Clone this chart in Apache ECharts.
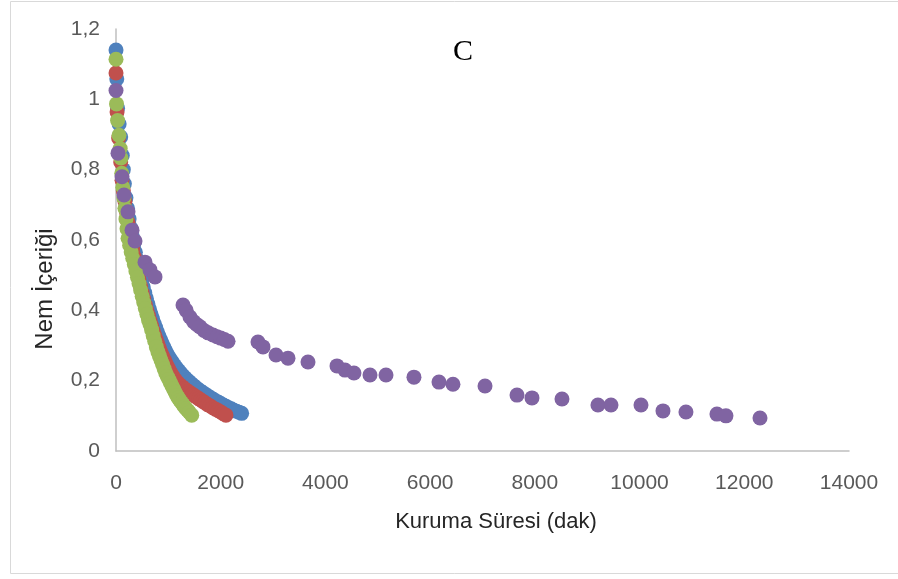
<!DOCTYPE html>
<html><head><meta charset="utf-8">
<script src="https://cdn.jsdelivr.net/npm/echarts@6/dist/echarts.min.js"></script>
<style>html,body{margin:0;padding:0;background:#fff}#c{width:898px;height:579px}</style>
</head><body><div id="c"></div>
<script>
const chartTitle = "C";
const xAxisTitle = "Kuruma Süresi (dak)";
const yAxisTitle = "Nem İçeriği";
const yTickLabels = ["0","0,2","0,4","0,6","0,8","1","1,2"];

const blueSeries = [[0,1.14],[15,1.058],[30,0.975],[60,0.93],[90,0.893],[120,0.84],[140,0.80],[160,0.76],[190,0.72],[220,0.69],[250,0.66],[280,0.635],[310,0.61],[340,0.588],[370,0.565],[400,0.545],[430,0.522],[460,0.502],[490,0.484],[520,0.466],[550,0.45],[580,0.434],[610,0.418],[640,0.403],[670,0.389],[700,0.375],[730,0.362],[760,0.35],[790,0.338],[820,0.327],[850,0.316],[880,0.306],[910,0.296],[940,0.287],[970,0.278],[1000,0.27],[1040,0.261],[1080,0.252],[1120,0.243],[1160,0.235],[1200,0.228],[1240,0.221],[1280,0.214],[1320,0.208],[1360,0.202],[1400,0.197],[1440,0.191],[1480,0.186],[1520,0.181],[1560,0.176],[1600,0.172],[1650,0.167],[1700,0.162],[1750,0.157],[1800,0.152],[1850,0.148],[1900,0.143],[1950,0.139],[2000,0.135],[2050,0.131],[2100,0.127],[2150,0.123],[2200,0.12],[2250,0.116],[2300,0.113],[2350,0.11],[2400,0.107]];

const redSeries = [[0,1.075],[20,0.964],[50,0.89],[90,0.822],[115,0.77],[140,0.74],[170,0.71],[200,0.68],[230,0.65],[260,0.62],[290,0.597],[320,0.575],[350,0.552],[380,0.53],[410,0.508],[440,0.488],[470,0.468],[500,0.45],[530,0.433],[560,0.416],[590,0.40],[620,0.385],[650,0.37],[680,0.356],[710,0.342],[740,0.329],[770,0.316],[800,0.304],[830,0.292],[860,0.281],[890,0.27],[920,0.26],[950,0.25],[980,0.241],[1010,0.232],[1040,0.224],[1070,0.216],[1100,0.209],[1140,0.201],[1180,0.194],[1220,0.188],[1260,0.183],[1300,0.178],[1340,0.173],[1380,0.169],[1420,0.165],[1460,0.161],[1500,0.157],[1540,0.153],[1580,0.149],[1620,0.145],[1660,0.141],[1700,0.137],[1750,0.132],[1800,0.128],[1850,0.123],[1900,0.119],[1950,0.115],[2000,0.111],[2050,0.106],[2100,0.102]];

const greenSeries = [[0,1.114],[10,0.987],[30,0.94],[57,0.898],[80,0.86],[95,0.833],[110,0.79],[130,0.75],[150,0.72],[170,0.69],[190,0.66],[210,0.632],[230,0.605],[260,0.585],[290,0.566],[320,0.548],[350,0.53],[380,0.512],[410,0.494],[440,0.476],[470,0.458],[500,0.44],[530,0.422],[560,0.405],[590,0.389],[620,0.373],[650,0.36],[680,0.345],[710,0.328],[740,0.312],[770,0.296],[800,0.282],[830,0.27],[860,0.258],[890,0.246],[920,0.234],[950,0.222],[980,0.212],[1010,0.203],[1040,0.194],[1070,0.185],[1100,0.176],[1130,0.167],[1160,0.158],[1190,0.151],[1220,0.144],[1250,0.138],[1280,0.132],[1310,0.126],[1340,0.12],[1370,0.115],[1400,0.11],[1446,0.102]];

const purpleSeries = [[0,1.025],[38,0.847],[115,0.78],[153,0.728],[229,0.68],[306,0.628],[363,0.597],[554,0.537],[649,0.515],[745,0.495],[1280,0.415],[1340,0.40],[1413,0.381],[1480,0.368],[1540,0.36],[1604,0.353],[1680,0.343],[1760,0.336],[1853,0.33],[1930,0.325],[2000,0.321],[2070,0.317],[2140,0.312],[2712,0.31],[2808,0.296],[3056,0.273],[3285,0.264],[3667,0.253],[4221,0.242],[4374,0.23],[4545,0.222],[4851,0.216],[5157,0.216],[5691,0.21],[6169,0.196],[6436,0.19],[7048,0.185],[7659,0.159],[7945,0.151],[8518,0.148],[9205,0.131],[9454,0.131],[10027,0.131],[10447,0.114],[10886,0.111],[11478,0.105],[11650,0.1],[12300,0.094]];

const colors = ["#4F81BD","#C0504D","#9BBB59","#8064A2"];
const labelFont = "'Liberation Sans', Arial, sans-serif";

const chart = echarts.init(document.getElementById('c'), null, {renderer:'canvas'});
const mk = (d, i) => ({type:'scatter', data:d, symbol:'circle', symbolSize:15, itemStyle:{color:colors[i], opacity:1}, silent:true});
chart.setOption({
  animation:false,
  grid:{left:116, right:49, top:29, bottom:128, containLabel:false},
  xAxis:{type:'value', min:0, max:14000, interval:2000,
    axisLine:{show:true, lineStyle:{color:'#bfbfbf', width:1.5}}, axisTick:{show:false}, splitLine:{show:false},
    axisLabel:{color:'#595959', fontSize:21, fontFamily:labelFont, margin:22, formatter:(v)=>String(v)}},
  yAxis:{type:'value', min:0, max:1.2, interval:0.2,
    axisLine:{show:true, lineStyle:{color:'#bfbfbf', width:1.5}}, axisTick:{show:false}, splitLine:{show:false},
    axisLabel:{color:'#595959', fontSize:21, fontFamily:labelFont, margin:16,
      formatter:(v)=>yTickLabels[Math.round(v/0.2)]}},
  series:[mk(blueSeries,0), mk(redSeries,1), mk(greenSeries,2), mk(purpleSeries,3)],
  graphic:[
    {type:'rect', shape:{x:10.5, y:1.5, width:900, height:572}, style:{fill:'none', stroke:'#d9d9d9', lineWidth:1}, z:-10},
    {type:'text', x:463, y:52, style:{text:chartTitle, font:"30px 'Liberation Serif', serif", fill:'#000', textAlign:'center', textVerticalAlign:'middle'}},
    {type:'text', x:496, y:522, style:{text:xAxisTitle, font:"22px "+labelFont, fill:'#262626', textAlign:'center', textVerticalAlign:'middle'}},
    {type:'text', x:45, y:289, rotation:Math.PI/2, style:{text:yAxisTitle, font:"24px "+labelFont, fill:'#262626', textAlign:'center', textVerticalAlign:'middle'}}
  ]
});
</script></body></html>
